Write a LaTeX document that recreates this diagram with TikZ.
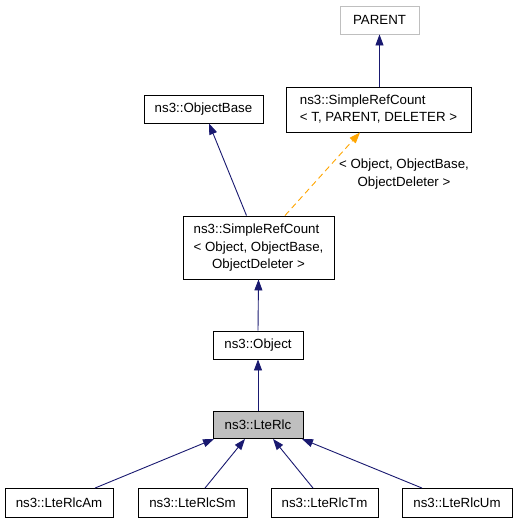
\documentclass[tikz,border=0pt]{standalone}
\usepackage{fontspec}
\setmainfont{Liberation Sans}
\usetikzlibrary{arrows.meta}

\begin{document}
\begin{tikzpicture}[x=1pt,y=-1pt,font=\fontsize{13.3}{17.5}\selectfont,
                   cls/.style={draw=black,line width=0.9pt,inner sep=0pt,minimum height=28pt},
                   inh/.style={draw={rgb,255:red,25;green,25;blue,112},line width=0.9pt,-{Triangle[length=11pt,width=8pt]}},
                   tmpl/.style={draw={rgb,255:red,255;green,165;blue,0},line width=0.9pt,dash pattern=on 6pt off 4pt,
                                -{Triangle[length=11pt,width=8pt]}}]
\useasboundingbox (0,0) rectangle (517,525);
\node[cls,draw={rgb,255:red,191;green,191;blue,191},minimum width=79pt] (parent) at (379.5,20) {PARENT};
\node[cls,minimum width=185pt,minimum height=45pt] (srct) at (378.5,109.5)
  {\begin{tabular}{@{}l@{}}ns3::SimpleRefCount\\< T, PARENT, DELETER >\end{tabular}};
\node[cls,minimum width=119pt] (obase) at (203.5,109) {ns3::ObjectBase};
\node[cls,minimum width=151pt,minimum height=63pt] (srco) at (258.5,247.5)
  {\begin{tabular}{@{}l@{}}ns3::SimpleRefCount\\< Object, ObjectBase,\\\multicolumn{1}{@{}c@{}}{ObjectDeleter >}\end{tabular}};
\node[cls,minimum width=90pt] (obj) at (258,345) {ns3::Object};
\node[cls,fill={rgb,255:red,191;green,191;blue,191},minimum width=90pt,minimum height=27pt] (rlc) at (258,425) {ns3::LteRlc};
\node[cls,minimum width=108pt,minimum height=29pt] (am) at (59,503) {ns3::LteRlcAm};
\node[cls,minimum width=109pt,minimum height=29pt] (sm) at (192.5,503) {ns3::LteRlcSm};
\node[cls,minimum width=107pt,minimum height=29pt] (tm) at (324.5,503) {ns3::LteRlcTm};
\node[cls,minimum width=110pt,minimum height=29pt] (um) at (457,503) {ns3::LteRlcUm};
\node[align=center,inner sep=0pt] (targs) at (404,174) {< Object, ObjectBase,\\ObjectDeleter >};
\draw[inh] (parent.south |- srct.north) -- (parent.south);
\draw[inh] ([xshift=-12pt]srco.north) -- ([xshift=5.5pt]obase.south);
\draw[tmpl] ([xshift=26.5pt]srco.north) -- ([xshift=-18.5pt]srct.south);
\draw[inh] (obj.north) -- (srco.south);
\draw[inh] (rlc.north) -- (obj.south);
\draw[inh] ([xshift=36pt]am.north) -- ([xshift=-44pt]rlc.south);
\draw[inh] ([xshift=12.5pt]sm.north) -- ([xshift=-13pt]rlc.south);
\draw[inh] ([xshift=-11.5pt]tm.north) -- ([xshift=15pt]rlc.south);
\draw[inh] ([xshift=-35pt]um.north) -- ([xshift=44pt]rlc.south);
\end{tikzpicture}
\end{document}
